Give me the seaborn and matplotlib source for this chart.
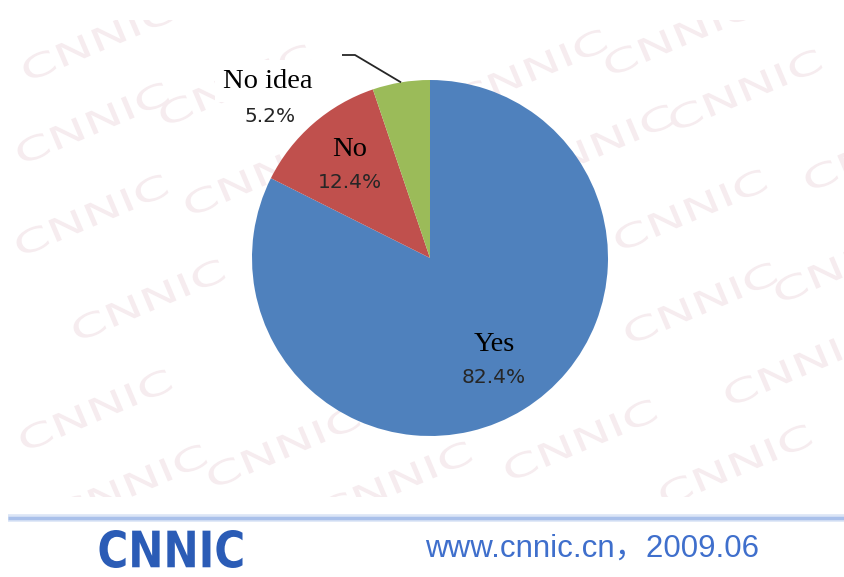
import numpy as np
import matplotlib
matplotlib.use("Agg")
import matplotlib.pyplot as plt
import seaborn as sns
from matplotlib.textpath import TextPath
from matplotlib.patches import PathPatch, Rectangle
from matplotlib.font_manager import FontProperties
from matplotlib.transforms import Affine2D

# Survey answers and their shares (%)
answers = ["Yes", "No", "No idea"]
shares = [82.4, 12.4, 5.2]
pct_labels = ["82.4%", "12.4%", "5.2%"]
slice_colors = ["#4F81BD", "#C0504D", "#9BBB59"]
footer_text = "www.cnnic.cn，2009.06"
brand = "CNNIC"

W, H = 845, 577

sns.set_theme(style="white")
plt.rcParams["font.family"] = ["DejaVu Sans", "Noto Sans CJK SC"]
palette = sns.color_palette(slice_colors)

fig = plt.figure(figsize=(W / 100, H / 100), dpi=100, facecolor="white")
ax = fig.add_axes([0, 0, 1, 1])


def py(y):
    """Convert a top-down pixel row to the axes' bottom-up coordinate."""
    return H - y


def stamp(text, cx, cy, width, height, angle, color, z, weight="bold", clip=None):
    """Draw text as a filled outline stretched into a width x height box."""
    tp = TextPath((0, 0), text, size=100,
                  prop=FontProperties(family="DejaVu Sans", weight=weight))
    bb = tp.get_extents()
    tr = (Affine2D()
          .translate(-(bb.x0 + bb.x1) / 2, -(bb.y0 + bb.y1) / 2)
          .scale(width / bb.width, height / bb.height)
          .rotate_deg(angle)
          .translate(cx, py(cy)))
    patch = PathPatch(tr.transform_path(tp), facecolor=color,
                      edgecolor="none", zorder=z)
    ax.add_patch(patch)
    if clip is not None:
        patch.set_clip_path(clip)


# faint brand watermark tiled over the chart area
area = Rectangle((0, py(497)), W, 477, transform=ax.transData)
marks = [(98, 40), (92, 123), (91, 215), (148, 300), (95, 410), (130, 485),
         (235, 85), (260, 175), (283, 447), (395, 482), (580, 440), (530, 70),
         (680, 35), (745, 90), (880, 150), (690, 210), (597, 145), (700, 303),
         (800, 365), (735, 465), (850, 262), (420, 300), (480, 200)]
for mx, my in marks:
    stamp(brand, mx, my, 160, 24, 23, "#f6ecef", 0, weight="normal", clip=area)

# pie, clockwise from 12 o'clock
cx, cy, R = 430, 258, 178
wedges, _ = ax.pie(shares, colors=palette, startangle=90, counterclock=False,
                   center=(cx, py(cy)), radius=R,
                   wedgeprops=dict(linewidth=0))
for w in wedges:
    w.set_zorder(2)

serif = ["Liberation Serif", "DejaVu Serif"]
for i in range(2):
    w = wedges[i]
    mid = np.deg2rad((w.theta1 + w.theta2) / 2)
    lx = cx + 0.685 * R * np.cos(mid)
    ly = py(cy) + 0.685 * R * np.sin(mid)
    ax.text(lx, ly + 17, answers[i], family=serif, fontsize=20.5, color="black",
            ha="center", va="center", zorder=3)
    ax.text(lx, ly - 16, pct_labels[i], fontsize=14.5, color="#262626",
            ha="center", va="center", zorder=3)

# outside label with leader line for the small slice
w = wedges[2]
mid = np.deg2rad((w.theta1 + w.theta2) / 2)
ex = cx + R * np.cos(mid)
ey = py(cy) + R * np.sin(mid)
ax.plot([ex, 355, 342], [ey, py(55), py(55)], color="#262626", lw=1.3,
        zorder=3, solid_capstyle="butt")
ax.text(268, py(81), answers[2], family=serif, fontsize=20.5, color="black",
        ha="center", va="center", zorder=3,
        bbox=dict(facecolor="white", edgecolor="none", pad=6))
ax.text(270, py(117), pct_labels[2], fontsize=14.5, color="#262626",
        ha="center", va="center", zorder=3)

# footer band
ax.plot([8, W], [py(518), py(518)], color="#dbe5f6", lw=5.5, zorder=1,
        solid_capstyle="butt")
ax.plot([8, W], [py(518), py(518)], color="#a9c0ea", lw=2.5, zorder=1,
        solid_capstyle="butt")
stamp(brand, 171, 549, 143, 38, 0, "#2b5cb6", 3)
ax.text(592, py(549), footer_text, fontsize=22.5, color="#3f6fcc",
        family=["Liberation Sans", "Noto Sans CJK SC"],
        ha="center", va="center", zorder=3)

ax.set_xlim(0, W)
ax.set_ylim(0, H)
ax.set_aspect("auto")
ax.axis("off")

fig.savefig("out.png", dpi=100, facecolor="white")
